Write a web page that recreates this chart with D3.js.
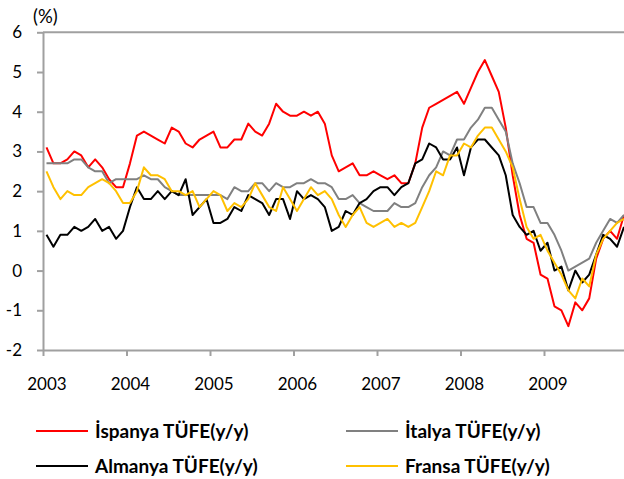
<!DOCTYPE html>
<html>
<head>
<meta charset="utf-8">
<script src="https://cdn.jsdelivr.net/npm/d3@7"></script>
<style>
  html, body { margin: 0; padding: 0; background: #ffffff; }
  svg { display: block; }
  text { font-family: Lato, "Open Sans", sans-serif; fill: #000; }
</style>
</head>
<body>
<div id="chart"></div>
<script>
// Yearly labels of the category axis (12 monthly categories each)
const yearLabels = ["2003", "2004", "2005", "2006", "2007", "2008", "2009"];
const monthsPerYear = 12;
const categoryCount = 84;

// Y axis ticks
const yTicks = [-2, -1, 0, 1, 2, 3, 4, 5, 6];

// Monthly CPI (y/y, %) series
const spain = [3.1, 2.7, 2.7, 2.8, 3.0, 2.9, 2.6, 2.8, 2.6, 2.3, 2.1, 2.1,
  2.7, 3.4, 3.5, 3.4, 3.3, 3.2, 3.6, 3.5, 3.2, 3.1, 3.3, 3.4,
  3.5, 3.1, 3.1, 3.3, 3.3, 3.7, 3.5, 3.4, 3.7, 4.2, 4.0, 3.9,
  3.9, 4.0, 3.9, 4.0, 3.7, 2.9, 2.5, 2.6, 2.7, 2.4, 2.4, 2.5,
  2.4, 2.3, 2.4, 2.2, 2.2, 2.7, 3.6, 4.1, 4.2, 4.3, 4.4, 4.5,
  4.2, 4.6, 5.0, 5.3, 4.9, 4.5, 3.6, 2.4, 1.4, 0.8, 0.7, -0.1,
  -0.2, -0.9, -1.0, -1.4, -0.8, -1.0, -0.7, 0.3, 0.8, 1.0, 0.8, 1.4];

const italy = [2.7, 2.7, 2.7, 2.7, 2.8, 2.8, 2.6, 2.5, 2.5, 2.2, 2.3, 2.3,
  2.3, 2.3, 2.4, 2.3, 2.3, 2.1, 2.0, 1.9, 1.9, 1.9, 1.9, 1.9,
  1.9, 1.9, 1.8, 2.1, 2.0, 2.0, 2.2, 2.2, 2.0, 2.2, 2.1, 2.1,
  2.2, 2.2, 2.3, 2.2, 2.2, 2.1, 1.8, 1.8, 1.9, 1.7, 1.6, 1.5,
  1.5, 1.5, 1.7, 1.6, 1.6, 1.7, 2.1, 2.4, 2.6, 3.0, 2.9, 3.3,
  3.3, 3.6, 3.8, 4.1, 4.1, 3.8, 3.5, 2.7, 2.2, 1.6, 1.6, 1.2,
  1.2, 0.9, 0.5, 0.0, 0.1, 0.2, 0.3, 0.7, 1.0, 1.3, 1.2, 1.4];

const germany = [0.9, 0.6, 0.9, 0.9, 1.1, 1.0, 1.1, 1.3, 1.0, 1.1, 0.8, 1.0,
  1.6, 2.1, 1.8, 1.8, 2.0, 1.8, 2.0, 1.9, 2.3, 1.4, 1.6, 1.8,
  1.2, 1.2, 1.3, 1.6, 1.5, 1.9, 1.8, 1.7, 1.4, 1.8, 1.8, 1.3,
  2.0, 1.8, 1.9, 1.8, 1.6, 1.0, 1.1, 1.5, 1.4, 1.7, 1.8, 2.0,
  2.1, 2.1, 1.9, 2.1, 2.2, 2.7, 2.8, 3.2, 3.1, 2.8, 2.8, 3.1,
  2.4, 3.1, 3.3, 3.3, 3.1, 2.9, 2.4, 1.4, 1.1, 0.9, 1.0, 0.5,
  0.7, 0.0, 0.1, -0.5, 0.0, -0.3, -0.1, 0.4, 0.9, 0.8, 0.6, 1.1];

const france = [2.5, 2.1, 1.8, 2.0, 1.9, 1.9, 2.1, 2.2, 2.3, 2.2, 2.0, 1.7,
  1.7, 2.0, 2.6, 2.4, 2.4, 2.3, 2.0, 2.0, 1.9, 2.0, 1.6, 1.8,
  2.0, 1.9, 1.5, 1.7, 1.6, 1.8, 2.2, 1.9, 1.6, 1.5, 2.1, 1.8,
  1.5, 1.8, 2.1, 1.9, 2.0, 1.8, 1.4, 1.1, 1.4, 1.6, 1.2, 1.1,
  1.2, 1.3, 1.1, 1.2, 1.1, 1.2, 1.6, 2.0, 2.5, 2.4, 2.9, 2.9,
  3.2, 3.1, 3.4, 3.6, 3.6, 3.3, 3.0, 2.6, 1.8, 1.1, 0.8, 0.9,
  0.5, 0.2, -0.1, -0.5, -0.7, -0.2, -0.4, 0.4, 0.8, 1.0, 1.2, 1.3];

const seriesNames = ["İspanya TÜFE(y/y)", "İtalya TÜFE(y/y)", "Almanya TÜFE(y/y)", "Fransa TÜFE(y/y)"];
const seriesColors = ["#ff0000", "#808080", "#000000", "#ffc000"];
const seriesValues = [spain, italy, germany, france];

const width = 624, height = 479;
const plot = { left: 43, right: 627.5, top: 32.3, bottom: 350 };
const axisColor = "#a0a0a0";
const tickFont = "17px";

const svg = d3.select("#chart").append("svg")
  .attr("width", width).attr("height", height)
  .attr("viewBox", `0 0 ${width} ${height}`);

// Category positions: index i occupies [i, i+1); points sit at the middle
const x = d3.scaleLinear().domain([0, categoryCount]).range([plot.left, plot.right]);
const y = d3.scaleLinear().domain([-2, 6]).range([plot.bottom, plot.top]);

// Top border of the plot area
svg.append("line")
  .attr("x1", plot.left).attr("x2", plot.right)
  .attr("y1", y(6)).attr("y2", y(6))
  .attr("stroke", axisColor).attr("stroke-width", 2);

// Y axis
const yAxis = svg.append("g")
  .attr("transform", `translate(${plot.left},0)`)
  .call(d3.axisLeft(y).tickValues(yTicks).tickSize(6).tickSizeOuter(0)
    .tickPadding(15).tickFormat(d => String(d)));
yAxis.select(".domain").attr("stroke", axisColor).attr("stroke-width", 2);
yAxis.selectAll(".tick line").attr("stroke", axisColor).attr("stroke-width", 2);
yAxis.selectAll(".tick text").style("font-size", tickFont).style("font-family", "Lato, sans-serif").attr("fill", "#000");

// X axis: tick marks on year boundaries
const yearBounds = d3.range(0, categoryCount + 1, monthsPerYear);
const xAxis = svg.append("g")
  .attr("transform", `translate(0,${plot.bottom})`)
  .call(d3.axisBottom(x).tickValues(yearBounds).tickSize(6).tickSizeOuter(0).tickFormat(""));
xAxis.select(".domain").attr("stroke", axisColor).attr("stroke-width", 2);
xAxis.selectAll(".tick line").attr("stroke", axisColor).attr("stroke-width", 2);

// X axis labels centred on the first category of each year
const labelAxis = svg.append("g")
  .attr("transform", `translate(0,${plot.bottom})`)
  .call(d3.axisBottom(x)
    .tickValues(yearLabels.map((_, k) => k * monthsPerYear + 0.5))
    .tickSize(0).tickPadding(28)
    .tickFormat((_, k) => yearLabels[k]));
labelAxis.select(".domain").remove();
labelAxis.selectAll(".tick text").style("font-size", tickFont).style("font-family", "Lato, sans-serif").attr("fill", "#000");

// Unit label
svg.append("text")
  .attr("x", 33).attr("y", 23)
  .style("font-size", "18.5px")
  .text("(%)");

// Series lines
const line = d3.line()
  .x((d, i) => x(i + 0.5))
  .y(d => y(d));

svg.append("g").selectAll("path")
  .data(seriesValues)
  .join("path")
  .attr("d", d => line(d))
  .attr("fill", "none")
  .attr("stroke", (d, i) => seriesColors[i])
  .attr("stroke-width", 2)
  .attr("stroke-linejoin", "round");

// Legend (two columns, two rows)
const legendPos = [
  { lx: 36, ty: 431 }, { lx: 346, ty: 431 },
  { lx: 36, ty: 466 }, { lx: 346, ty: 466 }
];
const legend = svg.append("g").selectAll("g")
  .data(seriesNames)
  .join("g")
  .attr("transform", (d, i) => `translate(${legendPos[i].lx},${legendPos[i].ty})`);
legend.append("line")
  .attr("x1", 0).attr("x2", 52)
  .attr("y1", 0).attr("y2", 0)
  .attr("stroke", (d, i) => seriesColors[i])
  .attr("stroke-width", 2);
legend.append("text")
  .attr("x", 59).attr("y", 6.5)
  .style("font-size", "19px")
  .style("font-weight", "bold")
  .text(d => d);
</script>
</body>
</html>
